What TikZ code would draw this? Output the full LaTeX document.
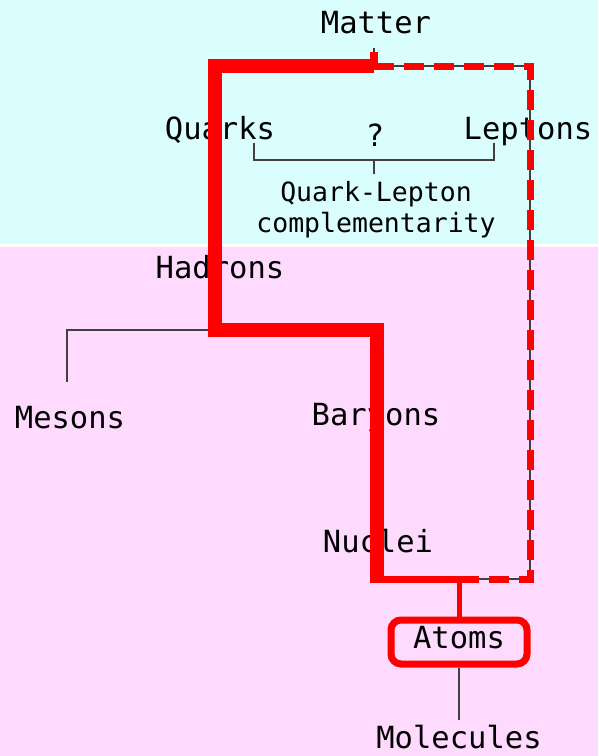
\documentclass[tikz,border=0pt]{standalone}
\usepackage{fontspec}
\newfontfamily\labelfont{DejaVu Sans Mono}
\definecolor{bgcyan}{RGB}{218,254,254}
\definecolor{bgpink}{RGB}{254,218,254}
\begin{document}
\begin{tikzpicture}[x=1pt,y=-1pt,
  lbl/.style={inner sep=0pt,anchor=base,font=\labelfont\fontsize{30.5}{30.5}\selectfont},
  smalllbl/.style={inner sep=0pt,anchor=base,font=\labelfont\fontsize{26.5}{26.5}\selectfont},
  thin/.style={draw=black!75,line width=1.2pt},
  redpath/.style={draw=red,line width=14pt,miter limit=10},
  reddash/.style={draw=red,line width=7pt,dash pattern=on 20pt off 10pt}]
\useasboundingbox (0,0) rectangle (598,756);
\fill[bgcyan] (0,0) rectangle (598,244);
\fill[white] (0,244) rectangle (598,247);
\fill[bgpink] (0,247) rectangle (598,756);
% labels
\node[lbl] (matter) at (376,33) {Matter};
\node[lbl] (quarks) at (220,139) {Quarks};
\node[lbl] (q) at (375,146) {?};
\node[lbl] (leptons) at (528,139) {Leptons};
\node[smalllbl] (qlc1) at (376,201) {Quark-Lepton};
\node[smalllbl] (qlc2) at (376,232) {complementarity};
\node[lbl] (hadrons) at (220,278) {Hadrons};
\node[lbl] (mesons) at (70,428) {Mesons};
\node[lbl] (baryons) at (376,425) {Baryons};
\node[lbl] (nuclei) at (378,552) {Nuclei};
\node[lbl] (molecules) at (459,748) {Molecules};
% coordinates
\coordinate (mtop) at (374,48);
\coordinate (j1) at (374,66);
\coordinate (tr) at (530,66);
\coordinate (br) at (530,579);
\coordinate (j2) at (459,579);
\coordinate (tl) at (215,66);
\coordinate (hj) at (215,330);
\coordinate (bj) at (377,330);
\coordinate (nj) at (377,579);
\coordinate (mes) at (67,382);
\coordinate (bl) at (254,143);
\coordinate (bm) at (374,160);
\coordinate (brr) at (494,143);
\coordinate (molline) at (459,720);
% thin black lines
\draw[thin] (mtop) -- (j1) -- (tr) -- (br) -- (j2);
\draw[thin] (hj) -- (67,330) -- (mes);
\draw[thin] (bl) |- (bm) -| (brr);
\draw[thin] (bm) -- (374,174);
% red paths
\draw[draw=red,line width=8pt] (374,52) -- (j1);
\draw[redpath] (j1) -- (tl) -- (hj) -- (bj) -- (nj);
\draw[reddash] (j1) -- (tr) -- (br) -- (j2);
\draw[draw=red,line width=7pt] (370,579) -- (j2);
% atoms
\node[minimum width=136pt,minimum height=44pt,inner sep=0pt,draw=red,line width=7pt,rounded corners=10pt] (atoms) at (459,642) {};
\node[lbl] (atomstxt) at (459,648) {Atoms};
\draw[draw=red,line width=5pt] (j2) -- (atoms.north);
\draw[thin] (atoms.south) -- (molline);
\end{tikzpicture}
\end{document}
